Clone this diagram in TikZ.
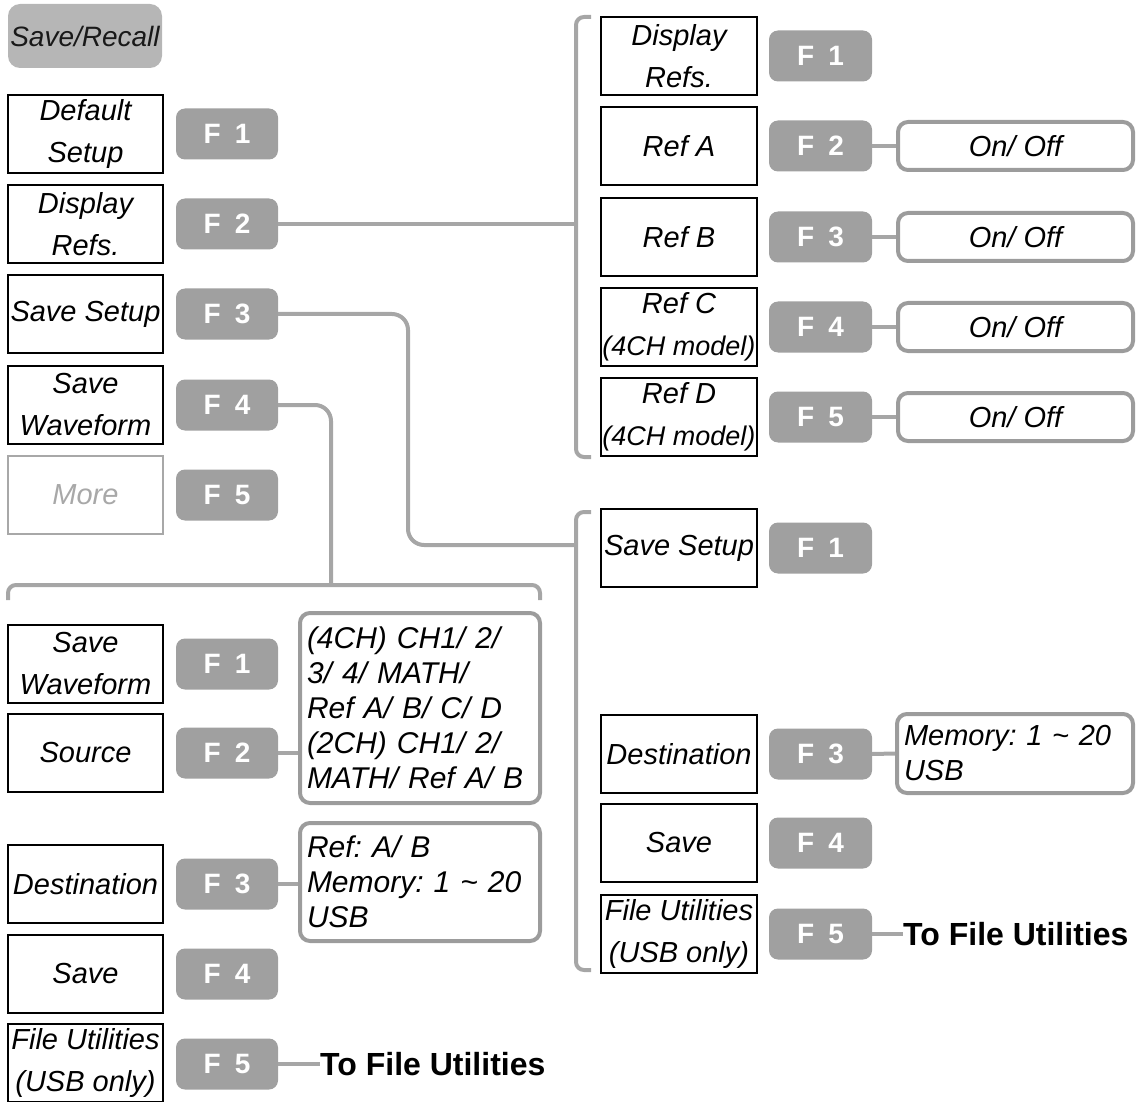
\documentclass[tikz,border=0pt]{standalone}
\usepackage{fontspec}
\setmainfont{Liberation Sans}
\definecolor{fgray}{HTML}{A0A0A0}
\definecolor{lgray}{HTML}{A6A6A6}
\definecolor{ogray}{HTML}{9C9C9C}
\definecolor{srgray}{HTML}{B6B6B6}
\definecolor{mgray}{HTML}{A8A8A8}
\newcommand\mfont{\fontsize{29}{42}\selectfont\itshape}
\newcommand\ofont{\fontsize{29}{35}\selectfont\itshape}
\frenchspacing
\begin{document}
\begin{tikzpicture}[x=1pt,y=-1pt,
  menu/.style={draw=black, line width=1.3pt, minimum width=155pt, minimum height=78pt, inner sep=0pt, align=center, font=\mfont},
  fbtn/.style={fill=fgray, rounded corners=9pt, minimum width=102pt, minimum height=51pt, inner sep=0pt, text=white, font=\fontsize{28}{32}\selectfont\bfseries},
  opt/.style={draw=ogray, line width=4pt, rounded corners=10pt, inner sep=0pt, font=\ofont},
  conn/.style={draw=lgray, line width=4pt},
  tofu/.style={anchor=west, inner sep=0pt, font=\fontsize{32}{36}\selectfont\bfseries}
]
\useasboundingbox (0,0) rectangle (1136,1102);

% top-left
\node[fill=srgray, rounded corners=12pt, minimum width=154pt, minimum height=64pt, inner sep=0pt, font=\fontsize{28}{32}\selectfont\itshape, text=black!90] (sr) at (85,36) {Save/Recall};

% left main menu
\node[menu] (m1) at (85.5,134) {Default\\Setup};
\node[menu] (m2) at (85.5,224) {Display\\Refs.};
\node[menu] (m3) at (85.5,314) {Save Setup};
\node[menu] (m4) at (85.5,405) {Save\\Waveform};
\node[menu, draw=mgray, text=mgray] (m5) at (85.5,495) {More};
\node[fbtn] (f1) at (227,134) {F\hspace{14pt}1};
\node[fbtn] (f2) at (227,224) {F\hspace{14pt}2};
\node[fbtn] (f3) at (227,314) {F\hspace{14pt}3};
\node[fbtn] (f4) at (227,405) {F\hspace{14pt}4};
\node[fbtn] (f5) at (227,495) {F\hspace{14pt}5};

% top-right: Display Refs
\node[menu, minimum width=156pt] (rm1) at (679,56) {Display\\Refs.};
\node[menu, minimum width=156pt] (rm2) at (679,146) {Ref A};
\node[menu, minimum width=156pt] (rm3) at (679,237) {Ref B};
\node[menu, minimum width=156pt] (rm4) at (679,327) {Ref C\\\fontsize{27}{42}\selectfont(4CH model)};
\node[menu, minimum width=156pt] (rm5) at (679,417) {Ref D\\\fontsize{27}{42}\selectfont(4CH model)};
\node[fbtn, minimum width=103pt] (rf1) at (820.5,56) {F\hspace{14pt}1};
\node[fbtn, minimum width=103pt] (rf2) at (820.5,146) {F\hspace{14pt}2};
\node[fbtn, minimum width=103pt] (rf3) at (820.5,237) {F\hspace{14pt}3};
\node[fbtn, minimum width=103pt] (rf4) at (820.5,327) {F\hspace{14pt}4};
\node[fbtn, minimum width=103pt] (rf5) at (820.5,417) {F\hspace{14pt}5};
\node[opt, minimum width=235pt, minimum height=48pt] (on2) at (1015.5,146) {On/ Off};
\node[opt, minimum width=235pt, minimum height=48pt] (on3) at (1015.5,237) {On/ Off};
\node[opt, minimum width=235pt, minimum height=48pt] (on4) at (1015.5,327) {On/ Off};
\node[opt, minimum width=235pt, minimum height=48pt] (on5) at (1015.5,417) {On/ Off};
\draw[conn] (rf2.east) -- (on2.west);
\draw[conn] (rf3.east) -- (on3.west);
\draw[conn] (rf4.east) -- (on4.west);
\draw[conn] (rf5.east) -- (on5.west);

% bracket 1
\coordinate (b1) at (576,224);
\draw[conn, rounded corners=8pt] (591,17) -- (576,17) -- (576,457) -- (591,457);
\draw[conn] (f2.east) -- (b1);

% bottom-right: Save Setup
\node[menu, minimum width=156pt] (sm1) at (679,548) {Save Setup};
\node[menu, minimum width=156pt] (sm3) at (679,754) {Destination};
\node[menu, minimum width=156pt] (sm4) at (679,843) {Save};
\node[menu, minimum width=156pt] (sm5) at (679,934) {File Utilities\\(USB only)};
\node[fbtn, minimum width=103pt] (sf1) at (820.5,548) {F\hspace{14pt}1};
\node[fbtn, minimum width=103pt] (sf3) at (820.5,754) {F\hspace{14pt}3};
\node[fbtn, minimum width=103pt] (sf4) at (820.5,843) {F\hspace{14pt}4};
\node[fbtn, minimum width=103pt] (sf5) at (820.5,934) {F\hspace{14pt}5};
\node[opt, minimum width=236pt, text width=222pt, inner xsep=7pt, minimum height=79pt, align=left] (mem) at (1015,753.5) {Memory: 1 \char`~{} 20\\USB};
\node[tofu] (tofu1) at (903,934) {To File Utilities};
\draw[conn] (sf3.east) -- (mem.west);
\draw[conn] (sf5.east) -- (tofu1.west);

% bracket 2
\coordinate (b2) at (576,545);
\draw[conn, rounded corners=8pt] (591,512) -- (576,512) -- (576,970) -- (591,970);
\draw[conn, rounded corners=16pt] (f3.east) -- (408,314) -- (408,545) -- (b2);

% bottom-left: Save Waveform
\node[menu] (wm1) at (85.5,664) {Save\\Waveform};
\node[menu] (wm2) at (85.5,753) {Source};
\node[menu] (wm3) at (85.5,884) {Destination};
\node[menu] (wm4) at (85.5,974) {Save};
\node[menu] (wm5) at (85.5,1063) {File Utilities\\(USB only)};
\node[fbtn] (wf1) at (227,664) {F\hspace{14pt}1};
\node[fbtn] (wf2) at (227,753) {F\hspace{14pt}2};
\node[fbtn] (wf3) at (227,884) {F\hspace{14pt}3};
\node[fbtn] (wf4) at (227,974) {F\hspace{14pt}4};
\node[fbtn] (wf5) at (227,1064) {F\hspace{14pt}5};
\node[opt, minimum width=240pt, text width=226pt, inner xsep=7pt, minimum height=190pt, align=left, font=\fontsize{30}{35}\selectfont\itshape] (src) at (420,708) {(4CH) CH1/ 2/\\3/ 4/ MATH/\\Ref A/ B/ C/ D\\(2CH) CH1/ 2/\\MATH/ Ref A/ B};
\node[opt, minimum width=240pt, text width=226pt, inner xsep=7pt, minimum height=118pt, align=left, font=\fontsize{30}{35}\selectfont\itshape] (dst) at (420,882) {Ref: A/ B\\Memory: 1 \char`~{} 20\\USB};
\node[tofu] (tofu2) at (320,1064) {To File Utilities};
\draw[conn] (wf2.east) -- (wm2.east -| src.west);
\draw[conn] (wf3.east) -- (wm3.east -| dst.west);
\draw[conn] (wf5.east) -- (tofu2.west);

% bracket 3
\coordinate (b3) at (331,585);
\draw[conn, rounded corners=8pt] (8,600) -- (8,585) -- (540,585) -- (540,600);
\draw[conn, rounded corners=16pt] (f4.east) -- (331,405) -- (b3);
\end{tikzpicture}
\end{document}
